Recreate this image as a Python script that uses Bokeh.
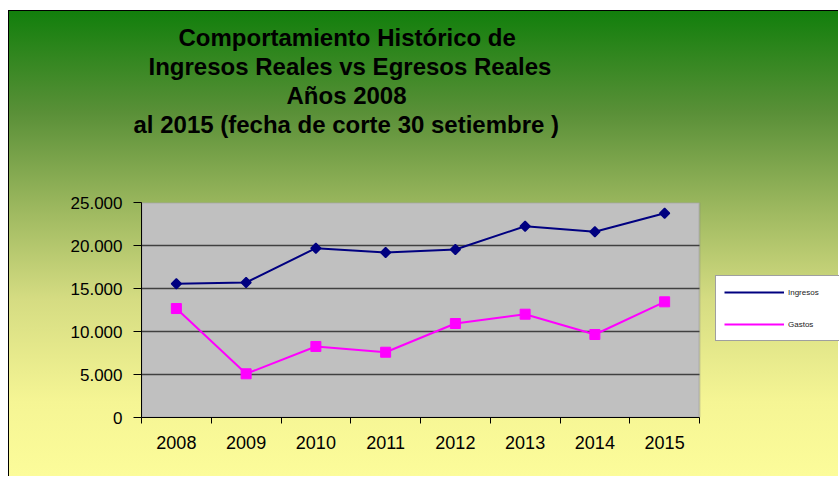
from bokeh.plotting import figure
from bokeh.models import (Range1d, FixedTicker, ColumnDataSource, Legend, LegendItem, Title,
                          BoxAnnotation)
from bokeh.embed import file_html
from bokeh.resources import INLINE
import math

years = ["2008", "2009", "2010", "2011", "2012", "2013", "2014", "2015"]
ingresos = [15550, 15700, 19690, 19190, 19540, 22240, 21590, 23760]
gastos = [12670, 5080, 8260, 7590, 10930, 12010, 9650, 13450]
y_ticks = [0, 5000, 10000, 15000, 20000, 25000]
y_tick_labels = ["0", "5.000", "10.000", "15.000", "20.000", "25.000"]
title_lines = ["Comportamiento  Histórico de",
               "Ingresos Reales vs Egresos Reales",
               "Años 2008",
               "al 2015  (fecha de corte 30 setiembre )"]
# layout / style constants
title_offsets = [37, 7, 145, -8]
TITLE_GAP_STANDOFF = 36   # extra px between the title block and the plot area
PLOT_W = 558      # px width of the gray plot area
FRAME_W = 698     # px width of the whole frame (plot area + legend zone)

n = len(years)
xpos = [i + 0.5 for i in range(n)]
src = ColumnDataSource(dict(x=xpos, ing=ingresos, gas=gastos))
inner = [t for t in y_ticks if 0 < t < max(y_ticks)]
grid_src = ColumnDataSource(dict(x0=[0] * len(inner), x1=[n] * len(inner), y=inner))

FONT = "Liberation Sans"

p = figure(width=830, height=466, output_backend="svg", toolbar_location=None,
           x_range=Range1d(0, n * FRAME_W / PLOT_W), y_range=Range1d(0, max(y_ticks)),
           min_border_left=132, min_border_right=0, min_border_top=191,
           min_border_bottom=60)
p.styles = {"background": "linear-gradient(to bottom, #127f0c 0%, #5a9038 22%, #9bb75e 42%, #d5dc82 62%, #f5f594 84%, #fcfc9a 100%)",
            "border-left": "1px solid #000", "border-top": "1px solid #000",
            "margin-left": "8px", "margin-top": "10px"}
p.border_fill_color = None
p.background_fill_color = None
p.outline_line_color = None

# gray plot area
p.add_layout(BoxAnnotation(left=0, right=n, fill_color="#c0c0c0", fill_alpha=1.0,
                           line_color="#808080", line_width=2, level="underlay"))

# horizontal grid lines within the plot area
p.segment(x0="x0", x1="x1", y0="y", y1="y", source=grid_src, line_color="#404040", line_width=1.5)

# axes
p.xaxis.bounds = (0, n)
p.xaxis.ticker = FixedTicker(ticks=xpos, minor_ticks=list(range(n + 1)))
p.xaxis.major_label_overrides = {x: y for x, y in zip(xpos, years)}
p.xaxis.major_tick_line_color = None
p.xaxis.major_tick_out = 0
p.xaxis.major_tick_in = 0
p.xaxis.minor_tick_out = 6
p.xaxis.minor_tick_in = 0
p.xaxis.minor_tick_line_color = "#000000"
p.xaxis.major_label_standoff = 12
p.xaxis.major_label_text_font = FONT
p.xaxis.major_label_text_font_size = "18px"
p.xaxis.major_label_text_color = "#000000"
p.xaxis.axis_line_color = "#000000"

p.yaxis.ticker = FixedTicker(ticks=y_ticks, minor_ticks=[])
p.yaxis.major_label_overrides = {t: l for t, l in zip(y_ticks, y_tick_labels)}
p.yaxis.major_tick_out = 8
p.yaxis.major_tick_in = 0
p.yaxis.major_tick_line_color = "#000000"
p.yaxis.major_label_standoff = 11
p.yaxis.major_label_text_font = FONT
p.yaxis.major_label_text_font_size = "17px"
p.yaxis.major_label_text_color = "#000000"
p.yaxis.axis_line_color = "#000000"

p.xgrid.grid_line_color = None
p.ygrid.grid_line_color = None

# series
l1 = p.line("x", "ing", source=src, line_color="#000080", line_width=2)
p.scatter("x", "ing", source=src, marker="square", angle=math.pi / 4, size=7,
          fill_color="#000080", line_color="#000080", line_width=1.5)
l2 = p.line("x", "gas", source=src, line_color="#ff00ff", line_width=2)
p.scatter("x", "gas", source=src, marker="square", size=10, fill_color="#ff00ff", line_color="#ff00ff")

legend = Legend(items=[LegendItem(label="Ingresos", renderers=[l1]),
                       LegendItem(label="Gastos", renderers=[l2])],
                location=(574, 76), orientation="vertical",
                padding=8, spacing=16, glyph_height=16, glyph_width=60,
                label_standoff=4, label_width=70, label_height=16,
                label_text_font=FONT, label_text_font_size="8px", label_text_color="#222222",
                border_line_color="#404040", border_line_width=1.5,
                background_fill_color="#ffffff", background_fill_alpha=1.0,
                margin=0)
p.add_layout(legend)

# blank spacer line between the plot area and the title block
p.add_layout(Title(text="\u00a0", align="left", text_font=FONT, text_font_size="24px",
                   standoff=TITLE_GAP_STANDOFF), "above")

# title lines, stacked above the plot (added nearest-first)
for line, off in reversed(list(zip(title_lines, title_offsets))):
    p.add_layout(Title(text=line, align="left", offset=off, text_line_height=0.9,
                       text_font=FONT, text_font_size="24px", text_font_style="bold",
                       text_color="#000000", standoff=0), "above")

open("out.html", "w").write(file_html(p, INLINE))
